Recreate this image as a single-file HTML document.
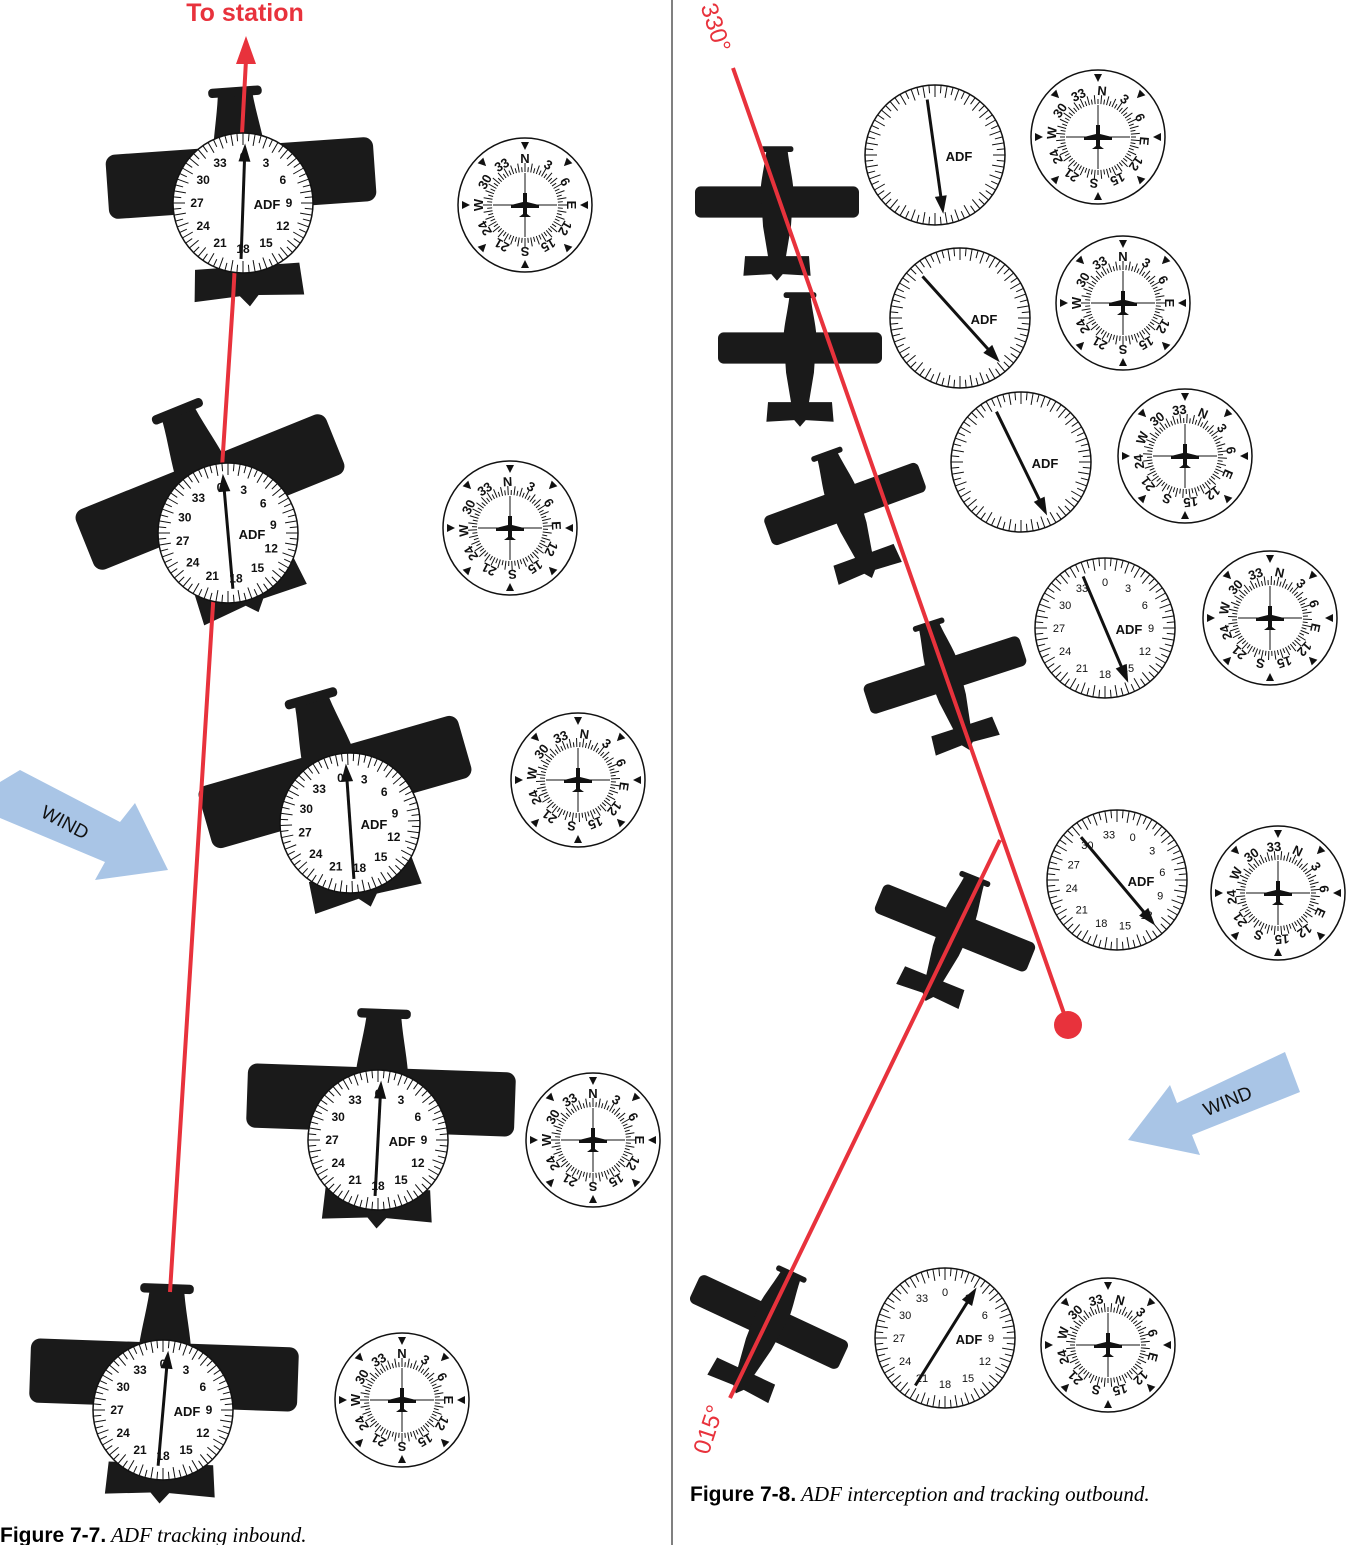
<!DOCTYPE html>
<html><head><meta charset="utf-8"><style>
html,body{margin:0;padding:0;background:#fff}
svg{display:block}
</style></head><body>
<svg id="fig" width="1348" height="1545" viewBox="0 0 1348 1545" xmlns="http://www.w3.org/2000/svg" font-family="Liberation Sans, Arial, sans-serif">
<rect width="1348" height="1545" fill="#fff"/>
<line x1="672" y1="0" x2="672" y2="1545" stroke="#000" stroke-width="1"/>
<g id="planes"></g>
<g id="red">
 <polyline points="246,60 233,300 212,620 170,1292" fill="none" stroke="#e8323c" stroke-width="4"/>
 <polygon points="246,36 236,64 256,64" fill="#e8323c"/>
 <text x="245" y="21" text-anchor="middle" font-size="25" font-weight="bold" fill="#e8323c">To station</text>
 <line x1="733" y1="68" x2="1068" y2="1025" stroke="#e8323c" stroke-width="4"/>
 <circle cx="1068" cy="1025" r="14" fill="#e8323c"/>
 <line x1="1000" y1="840" x2="730" y2="1398" stroke="#e8323c" stroke-width="4"/>
 <text transform="translate(708,30) rotate(72)" text-anchor="middle" font-size="24" fill="#e8323c">330°</text>
 <text transform="translate(716,1432) rotate(-72)" text-anchor="middle" font-size="24" fill="#e8323c">015°</text>
</g>
<g id="dials"></g>
<g>
 <polygon points="20,770 120,822 135,803 168,870 95,880 105,862 0,818 0,782" fill="#a9c5e6"/>
 <text transform="translate(62,828) rotate(28)" text-anchor="middle" font-size="19" fill="#111">WIND</text>
</g>
<g>
 <polygon points="1128,1140 1170,1085 1177,1103 1285,1052 1300,1092 1192,1135 1200,1155" fill="#a9c5e6"/>
 <text transform="translate(1230,1107) rotate(-22)" text-anchor="middle" font-size="19" fill="#111">WIND</text>
</g>
<text x="0" y="1542" font-size="21"><tspan font-weight="bold" font-family="Liberation Sans, sans-serif">Figure 7-7.</tspan><tspan font-style="italic" font-family="Liberation Serif, serif"> ADF tracking inbound.</tspan></text>
<text x="690" y="1501" font-size="21"><tspan font-weight="bold" font-family="Liberation Sans, sans-serif">Figure 7-8.</tspan><tspan font-style="italic" font-family="Liberation Serif, serif"> ADF interception and tracking outbound.</tspan></text>
</svg>
<script>
// airplane data: x, y, rotation, half-span
const planeX = [241,210,335,381,164, 777,800,845,945,955,769];
const planeY = [178,492,782,1100,1375, 202,348,504,675,928,1322];
const planeRot = [-4,-22,-16,2,2, 0,0,-20,-18,22,25];
const planeSize = [134,135,135,134,134, 82,82,82,82,82,82];
// ADF dials
const adfX = [243,228,350,378,163, 935,960,1021,1105,1117,945];
const adfY = [203,533,823,1140,1410, 155,318,462,628,880,1338];
const adfCard = [0,-10,-12,0,0, 0,0,0,0,20,0];
const adfNeedle = [2,-5,-4,3,5, 172,138,154,157,140,32];
const adfNumbers = [1,1,1,1,1, 0,0,0,1,1,1];
// heading indicators
const hiX = [525,510,578,593,402, 1098,1123,1185,1270,1278,1108];
const hiY = [205,528,780,1140,1400, 137,303,456,618,893,1345];
const hiHeading = [0,-3,8,0,0, 5,0,23,12,25,15];

const NS='http://www.w3.org/2000/svg';
function mk(tag, attrs, parent){const e=document.createElementNS(NS,tag);for(const k in attrs)e.setAttribute(k,attrs[k]);parent.appendChild(e);return e;}
const planesG=document.getElementById('planes');
const dialsG=document.getElementById('dials');

for(let i=0;i<planeX.length;i++){
  const s=planeSize[i];
  const g=mk('g',{transform:`translate(${planeX[i]},${planeY[i]}) rotate(${planeRot[i]}) scale(${s/100})`,fill:'#1a1a1a'},planesG);
  
  
  const big=s>100;
  const ch=big?24:19;
  mk('rect',{x:-100,y:-ch,width:200,height:ch*2,rx:7},g);
  mk('path',{d:'M-13,-62 C-15,-45 -19,-30 -20,-15 L-17,30 L-10,72 L10,72 L17,30 L20,-15 C19,-30 15,-45 13,-62 Z'},g);
  mk('path',{d:'M-39,66 L39,66 L41,90 L7,88 L0,96 L-7,88 L-41,90 Z'},g);
  mk('rect',{x:-20,y:-68,width:40,height:7,rx:3},g);
}
for(let i=0;i<adfX.length;i++){
  const cx=adfX[i],cy=adfY[i],r=70;
  const g=mk('g',{},dialsG);
  
  
  mk('circle',{cx:cx,cy:cy,r:r,fill:'#fff',stroke:'#111','stroke-width':1.5},g);
  for(let a=0;a<360;a+=5){
    const t=(a+adfCard[i])*Math.PI/180;const l=a%10===0?12:8;
    mk('line',{x1:cx+Math.sin(t)*r,y1:cy-Math.cos(t)*r,x2:cx+Math.sin(t)*(r-l),y2:cy-Math.cos(t)*(r-l),stroke:'#111','stroke-width':1},g);
  }
  if(adfNumbers[i]){
    for(let k=0;k<12;k++){
      const t=(k*30+adfCard[i])*Math.PI/180;
      const tx=mk('text',{x:cx+Math.sin(t)*(r-24),y:cy-Math.cos(t)*(r-24)+4,'text-anchor':'middle','font-size':i<5?12:11,'font-weight':i<5?'bold':'normal',fill:'#111'},g);
      tx.textContent=String(k*3);
    }
  }
  const lb=mk('text',{x:cx+24,y:cy+6,'text-anchor':'middle','font-size':13,'font-weight':'bold',fill:'#111'},g);
  lb.textContent='ADF';
  const n=adfNeedle[i]*Math.PI/180,dx=Math.sin(n),dy=-Math.cos(n);
  const x1=cx-dx*r*0.8,y1=cy-dy*r*0.8,x2=cx+dx*r*0.85,y2=cy+dy*r*0.85;
  const nd=mk('g',{},g);
  
  
  mk('line',{x1:x1,y1:y1,x2:x2-dx*12,y2:y2-dy*12,stroke:'#111','stroke-width':3},nd);
  const px=-dy,py=dx;
  mk('polygon',{points:`${x2},${y2} ${x2-dx*18+px*6},${y2-dy*18+py*6} ${x2-dx*18-px*6},${y2-dy*18-py*6}`,fill:'#111'},nd);
}
const hiLabels=['N','3','6','E','12','15','S','21','24','W','30','33'];
for(let i=0;i<hiX.length;i++){
  const cx=hiX[i],cy=hiY[i],r=67;
  const g=mk('g',{},dialsG);
  
  
  mk('circle',{cx:cx,cy:cy,r:r,fill:'#fff',stroke:'#111','stroke-width':1.5},g);
  const card=mk('g',{transform:`rotate(${hiHeading[i]},${cx},${cy})`},g);
  for(let a=0;a<360;a+=5){
    const t=a*Math.PI/180;const l=a%10===0?9:5;
    mk('line',{x1:cx+Math.sin(t)*33,y1:cy-Math.cos(t)*33,x2:cx+Math.sin(t)*(33+l),y2:cy-Math.cos(t)*(33+l),stroke:'#111','stroke-width':1},card);
  }
  for(let k=0;k<12;k++){
    const tx=mk('text',{x:cx,y:cy-r*0.7+5,'text-anchor':'middle','font-size':13,'font-weight':'bold',fill:'#111',transform:`rotate(${k*30},${cx},${cy})`},card);
    tx.textContent=hiLabels[k];
  }
  for(let k=0;k<8;k++){
    mk('polygon',{points:`${cx},${cy-r+12} ${cx-4},${cy-r+4} ${cx+4},${cy-r+4}`,fill:'#111',transform:`rotate(${k*45},${cx},${cy})`},g);
  }
  mk('line',{x1:cx-32,y1:cy,x2:cx+32,y2:cy,stroke:'#111','stroke-width':1},g);
  mk('line',{x1:cx,y1:cy-32,x2:cx,y2:cy+32,stroke:'#111','stroke-width':1},g);
  const ic=mk('path',{d:`M${cx-2},${cy-12} L${cx+2},${cy-12} L${cx+2},${cy-3} L${cx+14},${cy} L${cx+14},${cy+3} L${cx+2},${cy+3} L${cx+2},${cy+9} L${cx+6},${cy+12} L${cx-6},${cy+12} L${cx-2},${cy+9} L${cx-2},${cy+3} L${cx-14},${cy+3} L${cx-14},${cy} L${cx-2},${cy-3} Z`,fill:'#111'},g);
  
  
}
</script>
</body></html>
